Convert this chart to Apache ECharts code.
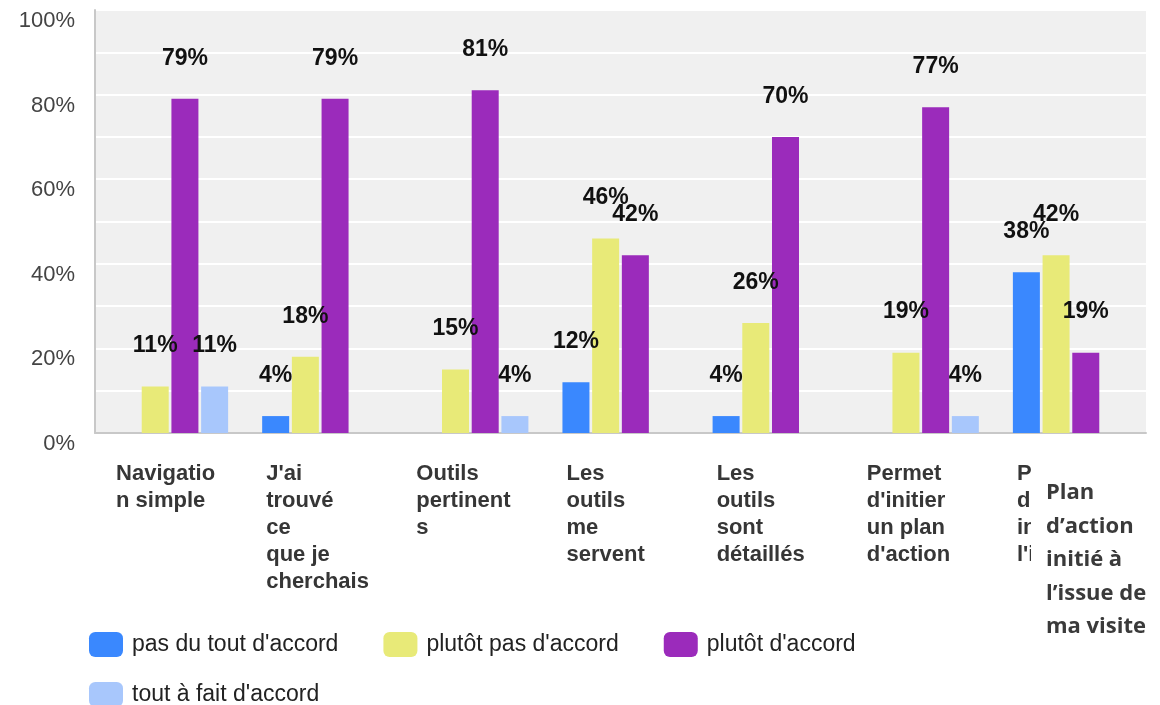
<!DOCTYPE html>
<html>
<head>
<meta charset="utf-8">
<script src="https://cdn.jsdelivr.net/npm/echarts@6/dist/echarts.min.js"></script>
<style>
  html, body { margin: 0; padding: 0; background: #fff; }
  #chart { width: 1160px; height: 705px; }
</style>
</head>
<body>
<div id="chart"></div>
<script>
// categories and their (wrapped) tick labels
const categories = [
  'Navigation simple',
  "J'ai trouvé ce que je cherchais",
  'Outils pertinents',
  'Les outils me servent',
  'Les outils sont détaillés',
  "Permet d'initier un plan d'action",
  "Plan d'action initié à l'issue de ma visite"
];
const tickLabels = [
  'Navigatio\nn simple',
  "J'ai\ntrouvé\nce\nque je\ncherchais",
  'Outils\npertinent\ns',
  'Les\noutils\nme\nservent',
  'Les\noutils\nsont\ndétaillés',
  "Permet\nd'initier\nun plan\nd'action",
  "Plan\nd'action\ninitié\nl'issue"
];
const yTicks = [0, 20, 40, 60, 80, 100];

// series values (%)
const pasDuTout   = [0, 4, 0, 12, 4, 0, 38];
const plutotPas   = [11, 18, 15, 46, 26, 19, 42];
const plutotAcc   = [79, 79, 81, 42, 70, 77, 19];
const toutAFait   = [11, 0, 4, 0, 0, 4, 0];

const seriesNames = ["pas du tout d'accord", "plutôt pas d'accord", "plutôt d'accord", "tout à fait d'accord"];
const colors = ['#3a88fe', '#e8ea78', '#9b2bbb', '#a8c7fc'];

const font = "'Liberation Sans', Arial, sans-serif";

const chart = echarts.init(document.getElementById('chart'));

const makeSeries = (name, data, color) => ({
  name: name,
  type: 'bar',
  data: data,
  barWidth: 27,
  barGap: '10%',
  itemStyle: { color: color },
  label: {
    show: true,
    position: 'top',
    distance: 29,
    color: '#111',
    fontFamily: font,
    fontWeight: 'bold',
    fontSize: 23,
    formatter: p => (p.value ? p.value + '%' : '')
  }
});

const legendText = { fontSize: 23, color: '#222', fontFamily: font, padding: [0, 0, 0, 4] };

const option = {
  animation: false,
  textStyle: { fontFamily: font },
  grid: {
    left: 95,
    right: 14,
    top: 10,
    bottom: 272,
    show: true,
    backgroundColor: '#f0f0f0',
    borderWidth: 0
  },
  xAxis: {
    type: 'category',
    data: categories,
    axisTick: { show: false },
    axisLine: { lineStyle: { color: '#c8c8c8', width: 2 } },
    axisLabel: {
      interval: 0,
      margin: 27,
      formatter: (v, i) => tickLabels[i].split('\n').map(l => '{a|' + l + '}').join('\n'),
      rich: {
        a: {
          width: 108,
          align: 'left',
          fontFamily: font,
          fontWeight: 'bold',
          fontSize: 22,
          lineHeight: 27,
          color: '#363636'
        }
      }
    }
  },
  yAxis: {
    type: 'value',
    min: 0,
    max: 100,
    interval: 20,
    axisLine: { show: true, lineStyle: { color: '#c8c8c8', width: 2 } },
    axisTick: { show: false },
    axisLabel: {
      margin: 20,
      color: '#444',
      fontSize: 22,
      fontFamily: font,
      verticalAlign: 'top',
      formatter: v => (yTicks.includes(v) ? v + '%' : '')
    },
    splitLine: { lineStyle: { color: '#ffffff', width: 2 } },
    minorTick: { show: false, splitNumber: 2 },
    minorSplitLine: { show: true, lineStyle: { color: '#ffffff', width: 2 } }
  },
  legend: [
    {
      data: seriesNames.slice(0, 3),
      left: 89,
      top: 632,
      padding: 0,
      icon: 'roundRect',
      itemWidth: 34,
      itemHeight: 25,
      itemGap: 45,
      textStyle: legendText
    },
    {
      data: seriesNames.slice(3),
      left: 89,
      top: 682,
      padding: 0,
      icon: 'roundRect',
      itemWidth: 34,
      itemHeight: 25,
      textStyle: legendText
    }
  ],
  graphic: [
    {
      type: 'rect',
      z: 100,
      shape: { x: 1031, y: 456, width: 129, height: 249 },
      style: { fill: '#ffffff' }
    },
    {
      type: 'text',
      z: 101,
      left: 1046,
      top: 476,
      style: {
        text: 'Plan\nd’action\ninitié à\nl’issue de\nma visite',
        fontFamily: "'Open Sans', sans-serif",
        fontWeight: 'bold',
        fontSize: 22,
        lineHeight: 33.5,
        fill: '#3a3a3a'
      }
    }
  ],
  series: [
    makeSeries(seriesNames[0], pasDuTout, colors[0]),
    makeSeries(seriesNames[1], plutotPas, colors[1]),
    makeSeries(seriesNames[2], plutotAcc, colors[2]),
    makeSeries(seriesNames[3], toutAFait, colors[3])
  ]
};

chart.setOption(option);
</script>
</body>
</html>
